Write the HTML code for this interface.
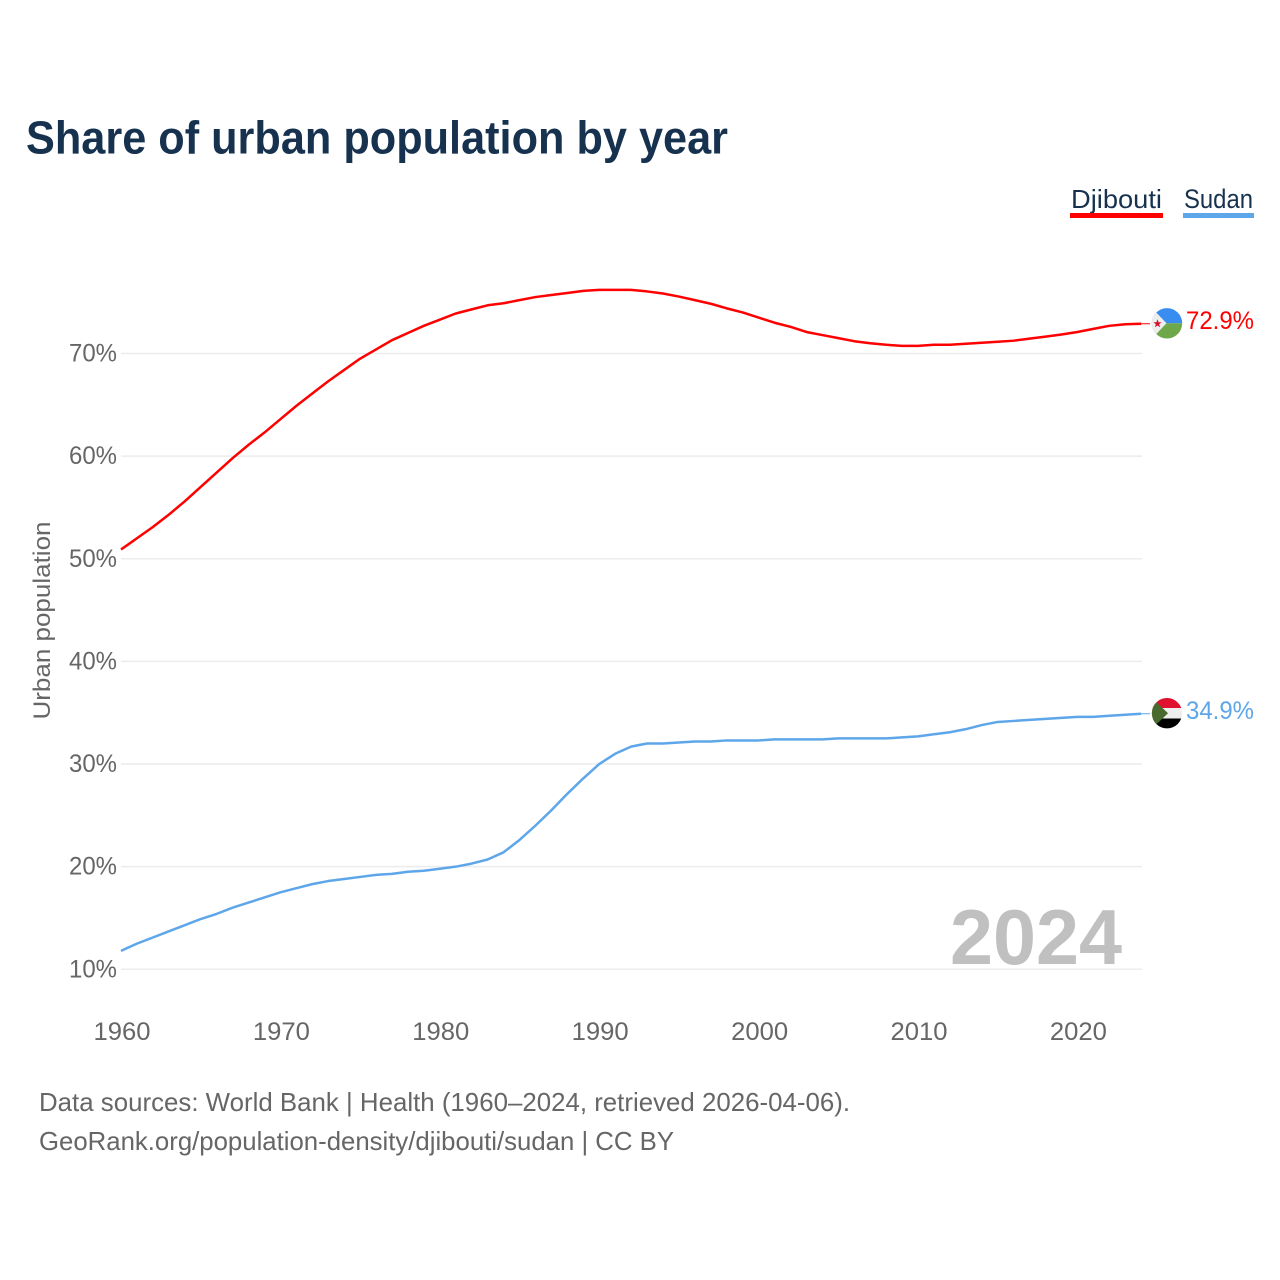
<!DOCTYPE html>
<html>
<head>
<meta charset="utf-8">
<title>Share of urban population by year</title>
<style>
html,body{margin:0;padding:0;background:#fff}
svg{display:block}
text{font-family:"Liberation Sans",sans-serif}
</style>
</head>
<body>
<svg id="chart" width="1280" height="1280" viewBox="0 0 1280 1280" xmlns="http://www.w3.org/2000/svg">
<rect width="1280" height="1280" fill="#fff"/>
<text x="26" y="153.5" font-size="46" font-weight="700" fill="#17324f" textLength="702" lengthAdjust="spacingAndGlyphs">Share of urban population by year</text>

<g>
<text x="1071" y="208" font-size="26" fill="#17324f" textLength="91" lengthAdjust="spacingAndGlyphs">Djibouti</text>
<rect x="1070" y="213" width="93" height="5" fill="#ff0000"/>
</g>
<g>
<text x="1184" y="208" font-size="27" fill="#17324f" textLength="69" lengthAdjust="spacingAndGlyphs">Sudan</text>
<rect x="1183" y="213" width="71" height="5" fill="#5ea6ea"/>
</g>

<g id="grid"></g>
<g id="yLabels"></g>
<g id="xLabels"></g>
<g id="lines"></g>

<text transform="translate(50,620.5) rotate(-90)" text-anchor="middle" font-size="24" fill="#666" textLength="198" lengthAdjust="spacingAndGlyphs">Urban population</text>
<text x="1122" y="964" text-anchor="end" font-size="78" font-weight="700" fill="#c0c0c0" textLength="172" lengthAdjust="spacingAndGlyphs">2024</text>

<defs>
<clipPath id="clip-dj"><circle cx="1167" cy="323.3" r="15.2"/></clipPath>
<clipPath id="clip-sd"><circle cx="1167" cy="713.2" r="15.2"/></clipPath>
</defs>
<g clip-path="url(#clip-dj)">
<rect x="1150" y="306" width="34" height="17.3" fill="#3a8df0"/>
<rect x="1150" y="323.3" width="34" height="17" fill="#6fa84a"/>
<polygon points="1150,306 1166.5,323.3 1150,340.6" fill="#eeeeee"/>
<polygon points="1157.5,319.3 1158.6,322.3 1161.5,322.3 1159.2,324.3 1160,327.3 1157.5,325.5 1155,327.3 1155.8,324.3 1153.5,322.3 1156.4,322.3" fill="#d7122f"/>
</g>
<g clip-path="url(#clip-sd)">
<rect x="1150" y="696" width="34" height="12" fill="#e0102f"/>
<rect x="1150" y="708" width="34" height="10.5" fill="#eeeeee"/>
<rect x="1150" y="718.5" width="34" height="12" fill="#000"/>
<polygon points="1150,696 1168,713.2 1150,730.4" fill="#496a2f"/>
</g>

<text x="1186" y="329" font-size="25" fill="#ff0000" textLength="68" lengthAdjust="spacingAndGlyphs">72.9%</text>
<text x="1186" y="719" font-size="25" fill="#5ea6ea" textLength="68" lengthAdjust="spacingAndGlyphs">34.9%</text>

<text x="39" y="1111" font-size="26" fill="#666" textLength="811" lengthAdjust="spacingAndGlyphs">Data sources: World Bank | Health (1960–2024, retrieved 2026-04-06).</text>
<text x="39" y="1150" font-size="26" fill="#666" textLength="635" lengthAdjust="spacingAndGlyphs">GeoRank.org/population-density/djibouti/sudan | CC BY</text>
</svg>
<script>
const years = [1960,1961,1962,1963,1964,1965,1966,1967,1968,1969,1970,1971,1972,1973,1974,1975,1976,1977,1978,1979,1980,1981,1982,1983,1984,1985,1986,1987,1988,1989,1990,1991,1992,1993,1994,1995,1996,1997,1998,1999,2000,2001,2002,2003,2004,2005,2006,2007,2008,2009,2010,2011,2012,2013,2014,2015,2016,2017,2018,2019,2020,2021,2022,2023,2024];
const djibouti = [50.9,52.0,53.1,54.3,55.6,57.0,58.4,59.8,61.1,62.3,63.6,64.9,66.1,67.3,68.4,69.5,70.4,71.3,72.0,72.7,73.3,73.9,74.3,74.7,74.9,75.2,75.5,75.7,75.9,76.1,76.2,76.2,76.2,76.05,75.85,75.55,75.2,74.85,74.4,74.0,73.5,73.0,72.6,72.1,71.8,71.5,71.2,71.0,70.85,70.75,70.75,70.85,70.85,70.95,71.05,71.15,71.25,71.45,71.65,71.85,72.1,72.4,72.7,72.85,72.9];
const sudan = [11.8,12.5,13.1,13.7,14.3,14.9,15.4,16.0,16.5,17.0,17.5,17.9,18.3,18.6,18.8,19.0,19.2,19.3,19.5,19.6,19.8,20.0,20.3,20.7,21.4,22.6,24.0,25.5,27.1,28.6,30.0,31.0,31.7,32.0,32.0,32.1,32.2,32.2,32.3,32.3,32.3,32.4,32.4,32.4,32.4,32.5,32.5,32.5,32.5,32.6,32.7,32.9,33.1,33.4,33.8,34.1,34.2,34.3,34.4,34.5,34.6,34.6,34.7,34.8,34.9];
const yTicks = [10,20,30,40,50,60,70];
const xTicks = [1960,1970,1980,1990,2000,2010,2020];

const NS = 'http://www.w3.org/2000/svg';
const xScale = function (year) { return 121 + (year - 1960) * 15.94; };
const yScale = function (value) { return 969.3 - (value - 10) * 10.263; };
const make = function (tag, parent) {
  const el = document.createElementNS(NS, tag);
  document.getElementById(parent).appendChild(el);
  return el;
};

yTicks.forEach(function (t) {
  const line = make('line', 'grid');
  
  
  line.setAttribute('x1', 121);
  line.setAttribute('x2', 1142);
  line.setAttribute('y1', yScale(t));
  line.setAttribute('y2', yScale(t));
  line.setAttribute('stroke', '#ececec');
  line.setAttribute('stroke-width', 1.5);
  const label = make('text', 'yLabels');
  
  
  label.setAttribute('x', 117);
  label.setAttribute('y', yScale(t) + 8);
  label.setAttribute('text-anchor', 'end');
  label.setAttribute('font-size', 25);
  label.setAttribute('fill', '#666');
  label.setAttribute('textLength', 48);
  label.setAttribute('lengthAdjust', 'spacingAndGlyphs');
  label.textContent = t + '%';
});

xTicks.forEach(function (t) {
  const label = make('text', 'xLabels');
  
  
  label.setAttribute('x', xScale(t) + 1);
  label.setAttribute('y', 1040);
  label.setAttribute('text-anchor', 'middle');
  label.setAttribute('font-size', 25);
  label.setAttribute('fill', '#666');
  label.setAttribute('textLength', 57);
  label.setAttribute('lengthAdjust', 'spacingAndGlyphs');
  label.textContent = t;
});

const drawSeries = function (values, colour, name) {
  const pts = values.map(function (v, i) { return xScale(years[i]).toFixed(2) + ',' + yScale(v).toFixed(2); });
  const path = make('polyline', 'lines');
  
  
  path.setAttribute('points', pts.join(' '));
  path.setAttribute('fill', 'none');
  path.setAttribute('stroke', colour);
  path.setAttribute('stroke-width', 2.5);
  path.setAttribute('stroke-linejoin', 'round');
  const last = values[values.length - 1];
  const leader = make('line', 'lines');
  
  
  leader.setAttribute('x1', xScale(years[years.length - 1]));
  leader.setAttribute('x2', 1150);
  leader.setAttribute('y1', yScale(last));
  leader.setAttribute('y2', yScale(last));
  leader.setAttribute('stroke', colour);
  leader.setAttribute('stroke-width', 1);
};
drawSeries(djibouti, '#ff0000', 'djibouti');
drawSeries(sudan, '#5ea6ea', 'sudan');
</script>
</body>
</html>
